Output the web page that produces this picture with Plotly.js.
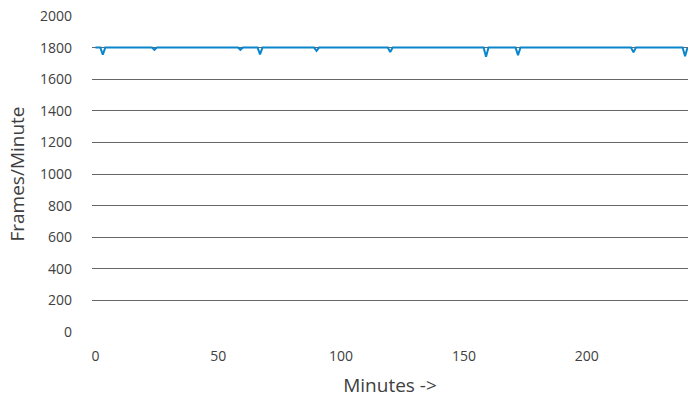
<!DOCTYPE html>
<html>
<head>
<meta charset="utf-8">
<script src="https://cdn.plot.ly/plotly-3.0.1.min.js"></script>
<style>html,body{margin:0;padding:0;background:#fff;}#chart{width:688px;height:398px;}</style>
</head>
<body>
<div id="chart"></div>
<script>
// Minutes (x) and frames per minute (y)
const minutes = [0, 2, 3, 4, 23, 24, 25, 58, 59, 60, 66, 67, 68, 89, 90, 91, 119, 120, 121, 158, 159, 160, 171, 172, 173, 218, 219, 220, 239, 240, 241];
const framesPerMinute = [1800, 1800, 1755, 1800, 1800, 1785, 1800, 1800, 1785, 1800, 1800, 1757, 1800, 1800, 1780, 1800, 1800, 1772, 1800, 1800, 1742, 1800, 1800, 1752, 1800, 1800, 1770, 1800, 1800, 1745, 1800];
const xTicks = [0, 50, 100, 150, 200];
const yTicks = [0, 200, 400, 600, 800, 1000, 1200, 1400, 1600, 1800, 2000];

const font = 'Open Sans, Noto Sans, sans-serif';
Plotly.newPlot('chart', [{
  x: minutes, y: framesPerMinute, type: 'scatter', mode: 'lines',
  line: {color: '#0a86cc', width: 2}, hoverinfo: 'skip'
}], {
  width: 688, height: 398,
  margin: {l: 92, r: 0, t: 16, b: 66},
  paper_bgcolor: '#fff', plot_bgcolor: '#fff',
  showlegend: false,
  font: {family: font, color: '#404040', size: 14},
  xaxis: {
    range: [-1.4, 241.2], tickvals: xTicks, showgrid: false, zeroline: false,
    showline: false, ticks: '', ticklabelstandoff: 14,
    tickfont: {size: 14, color: '#404040'},
    title: {text: 'Minutes ->', font: {size: 19, color: '#404040'}, standoff: 16}
  },
  yaxis: {
    range: [0, 2000], tickvals: yTicks, showgrid: true, gridcolor: '#666666', gridwidth: 1,
    zeroline: false, showline: false, ticks: '', ticklabelstandoff: 19,
    tickfont: {size: 14, color: '#404040'},
    title: {text: 'Frames/Minute', font: {size: 19, color: '#404040'}, standoff: 10}
  }
}, {displayModeBar: false, staticPlot: true});
</script>
</body>
</html>
